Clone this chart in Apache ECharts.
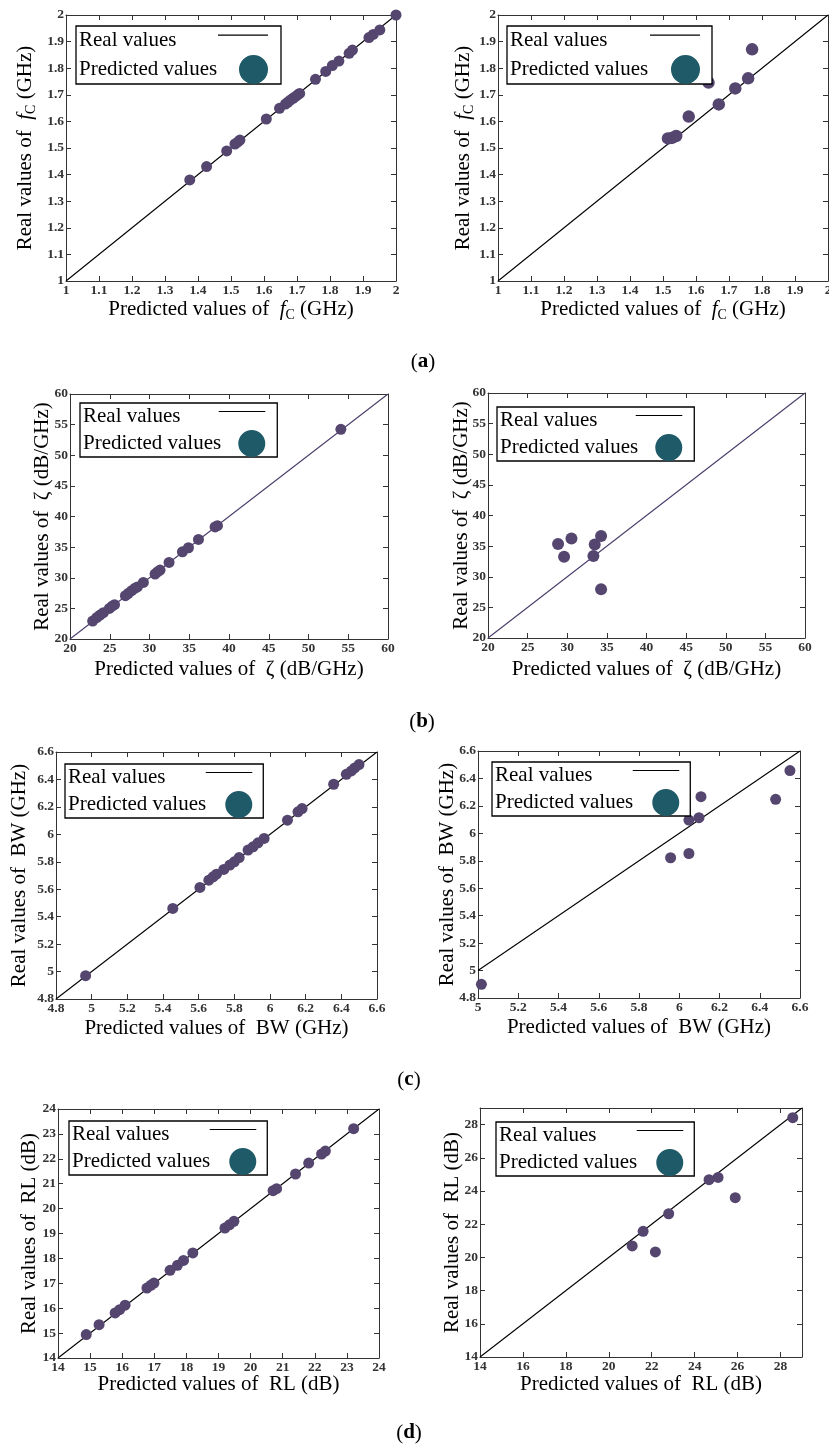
<!DOCTYPE html>
<html>
<head>
<meta charset="utf-8">
<script src="https://cdn.jsdelivr.net/npm/echarts@6/dist/echarts.min.js"></script>
<style>
html,body{margin:0;padding:0;background:#fff;}
#c{width:829px;height:1450px;}
</style>
</head>
<body>
<div id="c"></div>
<script>
// ---------------- DATA ----------------
// (a) centre frequency fC (GHz)
const fcLeftPred  = [1.375,1.426,1.487,1.512,1.520,1.527,1.607,1.647,1.665,1.672,1.680,1.688,1.695,1.702,1.708,1.756,1.787,1.807,1.827,1.858,1.868,1.918,1.931,1.951,2.000];
const fcLeftReal  = [1.380,1.430,1.489,1.515,1.522,1.530,1.609,1.649,1.665,1.672,1.680,1.687,1.693,1.700,1.705,1.758,1.788,1.810,1.827,1.856,1.868,1.915,1.927,1.944,2.000];
const fcRightPred = [1.515,1.527,1.540,1.578,1.638,1.669,1.719,1.758,1.770];
const fcRightReal = [1.536,1.538,1.545,1.618,1.746,1.664,1.724,1.762,1.871];
// (b) zeta (dB/GHz)
const zetaLeftPred  = [22.85,23.36,23.78,24.20,24.95,25.30,25.60,26.97,27.34,27.76,28.18,28.48,29.23,30.70,31.00,31.33,32.46,34.14,34.90,36.16,38.25,38.55,54.07];
const zetaLeftReal  = [22.93,23.50,23.90,24.30,25.00,25.35,25.60,27.07,27.45,27.88,28.30,28.50,29.24,30.60,30.95,31.25,32.50,34.24,34.90,36.25,38.30,38.50,54.24];
const zetaRightPred = [28.84,29.60,30.53,33.30,33.47,34.27,34.27];
const zetaRightReal = [35.33,33.26,36.26,33.37,35.28,36.64,27.97];
// (c) bandwidth BW (GHz)
const bwLeftPred  = [4.966,5.455,5.607,5.657,5.681,5.700,5.741,5.775,5.800,5.827,5.877,5.905,5.933,5.967,6.098,6.157,6.180,6.357,6.428,6.456,6.475,6.499];
const bwLeftReal  = [4.970,5.460,5.613,5.666,5.690,5.710,5.744,5.776,5.800,5.831,5.885,5.909,5.938,5.970,6.103,6.164,6.188,6.365,6.437,6.462,6.484,6.508];
const bwRightPred = [5.017,5.957,6.048,6.048,6.098,6.108,6.479,6.550];
const bwRightReal = [4.900,5.822,5.853,6.097,6.114,6.267,6.248,6.457];
// (d) return loss RL (dB)
const rlLeftPred  = [14.88,15.28,15.78,15.92,16.09,16.77,16.89,16.99,17.49,17.72,17.91,18.20,19.20,19.34,19.48,20.70,20.81,21.40,21.81,22.21,22.33,23.21];
const rlLeftReal  = [14.94,15.34,15.81,15.94,16.12,16.81,16.92,17.01,17.52,17.72,17.92,18.22,19.22,19.35,19.49,20.72,20.80,21.39,21.83,22.19,22.31,23.21];
const rlRightPred = [21.09,21.60,22.17,22.79,24.67,25.09,25.89,28.57];
const rlRightReal = [20.69,21.57,20.33,22.63,24.68,24.82,23.60,28.42];

// axis ticks: [min, max, interval]
const fcTicks      = [1, 2, 0.1];
const zetaTicks    = [20, 60, 5];
const bwTicks      = [4.8, 6.6, 0.2];
const bwRightXTicks= [5, 6.6, 0.2];
const rlTicks      = [14, 24, 1];
const rlRightTicks = [14, 29, 2];

// texts
const seriesNames = ['Real values', 'Predicted values'];
const fcXName   = '{n|Predicted values of  }{i|f}{s|C}{n| (GHz)}';
const fcYName   = '{n|Real values of  }{i|f}{s|C}{n| (GHz)}';
const zetaXName = '{n|Predicted values of  ζ (dB/GHz)}';
const zetaYName = '{n|Real values of  ζ (dB/GHz)}';
const bwXName   = '{n|Predicted values of  BW (GHz)}';
const bwYName   = '{n|Real values of  BW (GHz)}';
const rlXName   = '{n|Predicted values of  RL (dB)}';
const rlYName   = '{n|Real values of  RL (dB)}';
const captions  = ['a', 'b', 'c', 'd'];

// ---------------- LAYOUT ----------------
const FONT = '"Liberation Serif", "Times New Roman", serif';
const POINT = '#554670';
const LEG_DOT = '#1e5a67';
const AXC = '#333333';

// lgs: [text width, right padding, item height]
const panels = [
  {pred: fcLeftPred,  real: fcLeftReal,  xt: fcTicks,  yt: fcTicks,  xn: fcXName,  yn: fcYName,  g:[66,15,330,266],  lg:[76,26],   lgs:[134,13,29], yGap:28, xGap:15, size:11,   lc:'#000'},
  {pred: fcRightPred, real: fcRightReal, xt: fcTicks,  yt: fcTicks,  xn: fcXName,  yn: fcYName,  g:[498,15,330,266], lg:[507,26],  lgs:[135,12,29], yGap:22, xGap:15, size:12.5, lc:'#000'},
  {pred: zetaLeftPred,  real: zetaLeftReal,  xt: zetaTicks, yt: zetaTicks, xn: zetaXName, yn: zetaYName, g:[70,394,318,245],  lg:[80,403],  lgs:[129,12,27], yGap:15, xGap:17, size:11, lc:'#4a3c6a'},
  {pred: zetaRightPred, real: zetaRightReal, xt: zetaTicks, yt: zetaTicks, xn: zetaXName, yn: zetaYName, g:[488,393,317,245], lg:[497,407], lgs:[129,12,27], yGap:14, xGap:18, size:12, lc:'#4a3c6a'},
  {pred: bwLeftPred,  real: bwLeftReal,  xt: bwTicks,       yt: bwTicks, xn: bwXName, yn: bwYName, g:[56,752,321,247],  lg:[65,764],  lgs:[131,11,27], yGap:24, xGap:16, size:11, lc:'#000'},
  {pred: bwRightPred, real: bwRightReal, xt: bwRightXTicks, yt: bwTicks, xn: bwXName, yn: bwYName, g:[478,751,322,247], lg:[492,762], lgs:[131,11,27], yGap:18, xGap:16, size:11, lc:'#000'},
  {pred: rlLeftPred,  real: rlLeftReal,  xt: rlTicks,      yt: rlTicks,      xn: rlXName, yn: rlYName, g:[58,1109,321,249],  lg:[69,1121],  lgs:[131,11,27], yGap:16, xGap:13, size:11, lc:'#000'},
  {pred: rlRightPred, real: rlRightReal, xt: rlRightTicks, yt: rlRightTicks, xn: rlXName, yn: rlYName, g:[480,1108,322,249], lg:[496,1122], lgs:[131,11,27], yGap:15, xGap:14, size:11, lc:'#000', hideMax:true}
];
const captionPos = [[423,362],[422,722],[409,1080],[409,1433]];

const nameRich = {
  n: {fontFamily: FONT, fontSize: 21, color: '#000', lineHeight: 26, verticalAlign: 'middle'},
  i: {fontFamily: FONT, fontSize: 21, fontStyle: 'italic', color: '#000', lineHeight: 26, verticalAlign: 'middle'},
  s: {fontFamily: FONT, fontSize: 14, color: '#000', lineHeight: 15, verticalAlign: 'bottom'}
};

const LINE_ICON = 'path://M0,0L0,0Z M0,29L0,29Z M0,8.5L50,8.5L50,9.8L0,9.8Z';
const DOT_ICON  = 'path://M0,0L0,0Z M0,29L0,29Z M21,14.5A14.5,14.5,0,1,1,50,14.5A14.5,14.5,0,1,1,21,14.5Z';

const grid = [], xAxis = [], yAxis = [], series = [], legend = [], graphic = [];

function mainAxis(t, gi, name, gap, isX, hideMax) {
  return {
    type: 'value', gridIndex: gi, min: t[0], max: t[1], interval: t[2],
    position: isX ? 'bottom' : 'left',
    name: name, nameLocation: 'middle', nameGap: gap, nameMoveOverlap: false,
    nameTextStyle: {fontFamily: FONT, fontSize: 21, color: '#000', rich: nameRich},
    axisLine: {show: true, onZero: false, lineStyle: {color: AXC, width: 1}},
    axisTick: {show: true, inside: true, length: 5, lineStyle: {color: AXC, width: 1}},
    axisLabel: {show: true, fontFamily: FONT, fontWeight: 'bold', fontSize: 13.5, color: AXC,
                margin: isX ? 3 : 2, showMaxLabel: hideMax ? false : true, showMinLabel: true, hideOverlap: false},
    splitLine: {show: false}, minorTick: {show: false}
  };
}
function mirrorAxis(t, gi, isX) {
  return {
    type: 'value', gridIndex: gi, min: t[0], max: t[1], interval: t[2],
    position: isX ? 'top' : 'right',
    axisLine: {show: true, onZero: false, lineStyle: {color: AXC, width: 1}},
    axisTick: {show: true, inside: true, length: 5, lineStyle: {color: AXC, width: 1}},
    axisLabel: {show: false}, splitLine: {show: false}
  };
}

panels.forEach((p, i) => {
  grid.push({left: p.g[0], top: p.g[1], width: p.g[2], height: p.g[3], containLabel: false, outerBoundsMode: 'none', show: false});
  xAxis.push(mainAxis(p.xt, i, p.xn, p.xGap, true, p.hideMax));
  xAxis.push(mirrorAxis(p.xt, i, true));
  yAxis.push(mainAxis(p.yt, i, p.yn, p.yGap, false, p.hideMax));
  yAxis.push(mirrorAxis(p.yt, i, false));
  const lo = Math.max(p.xt[0], p.yt[0]);
  const hi = Math.min(p.xt[1], p.yt[1]);
  series.push({
    type: 'line', name: seriesNames[0], xAxisIndex: 2 * i, yAxisIndex: 2 * i,
    data: [[lo, lo], [hi, hi]], symbol: 'none', showSymbol: false, silent: true,
    lineStyle: {color: p.lc, width: 1.1}, itemStyle: {color: p.lc}, z: 1
  });
  series.push({
    type: 'scatter', name: seriesNames[1], xAxisIndex: 2 * i, yAxisIndex: 2 * i,
    data: p.pred.map((v, k) => [v, p.real[k]]),
    symbol: 'circle', symbolSize: p.size, itemStyle: {color: POINT, opacity: 1}, z: 2
  });
  legend.push({
    left: p.lg[0], top: p.lg[1], orient: 'vertical', align: 'right',
    itemWidth: 50, itemHeight: p.lgs[2], itemGap: 0, padding: [0, p.lgs[1], 0, 3],
    borderColor: '#000', borderWidth: 1.3, backgroundColor: '#fff', borderRadius: 0,
    selectedMode: false, symbolKeepAspect: true,
    formatter: '{t|{name}}',
    textStyle: {fontFamily: FONT, fontSize: 21, color: '#000',
      rich: {t: {fontFamily: FONT, fontSize: 21, color: '#000', width: p.lgs[0], align: 'left'}}},
    data: [
      {name: seriesNames[0], icon: LINE_ICON, itemStyle: {color: '#000', borderWidth: 0}},
      {name: seriesNames[1], icon: DOT_ICON,  itemStyle: {color: LEG_DOT, borderWidth: 0}}
    ]
  });
});

captions.forEach((c, i) => {
  graphic.push({
    type: 'text', x: captionPos[i][0], y: captionPos[i][1],
    style: {
      text: '{p|(}{b|' + c + '}{p|)}',
      align: 'center', verticalAlign: 'middle', textAlign: 'center', textVerticalAlign: 'middle',
      rich: {
        p: {fontFamily: FONT, fontSize: 21, fill: '#000', color: '#000'},
        b: {fontFamily: FONT, fontSize: 21, fontWeight: 'bold', fill: '#000', color: '#000'}
      }
    }
  });
});

const chart = echarts.init(document.getElementById('c'), null, {renderer: 'canvas'});
chart.setOption({
  animation: false,
  backgroundColor: '#fff',
  textStyle: {fontFamily: FONT},
  grid, xAxis, yAxis, series, legend, graphic,
  tooltip: {show: false}
});
</script>
</body>
</html>
